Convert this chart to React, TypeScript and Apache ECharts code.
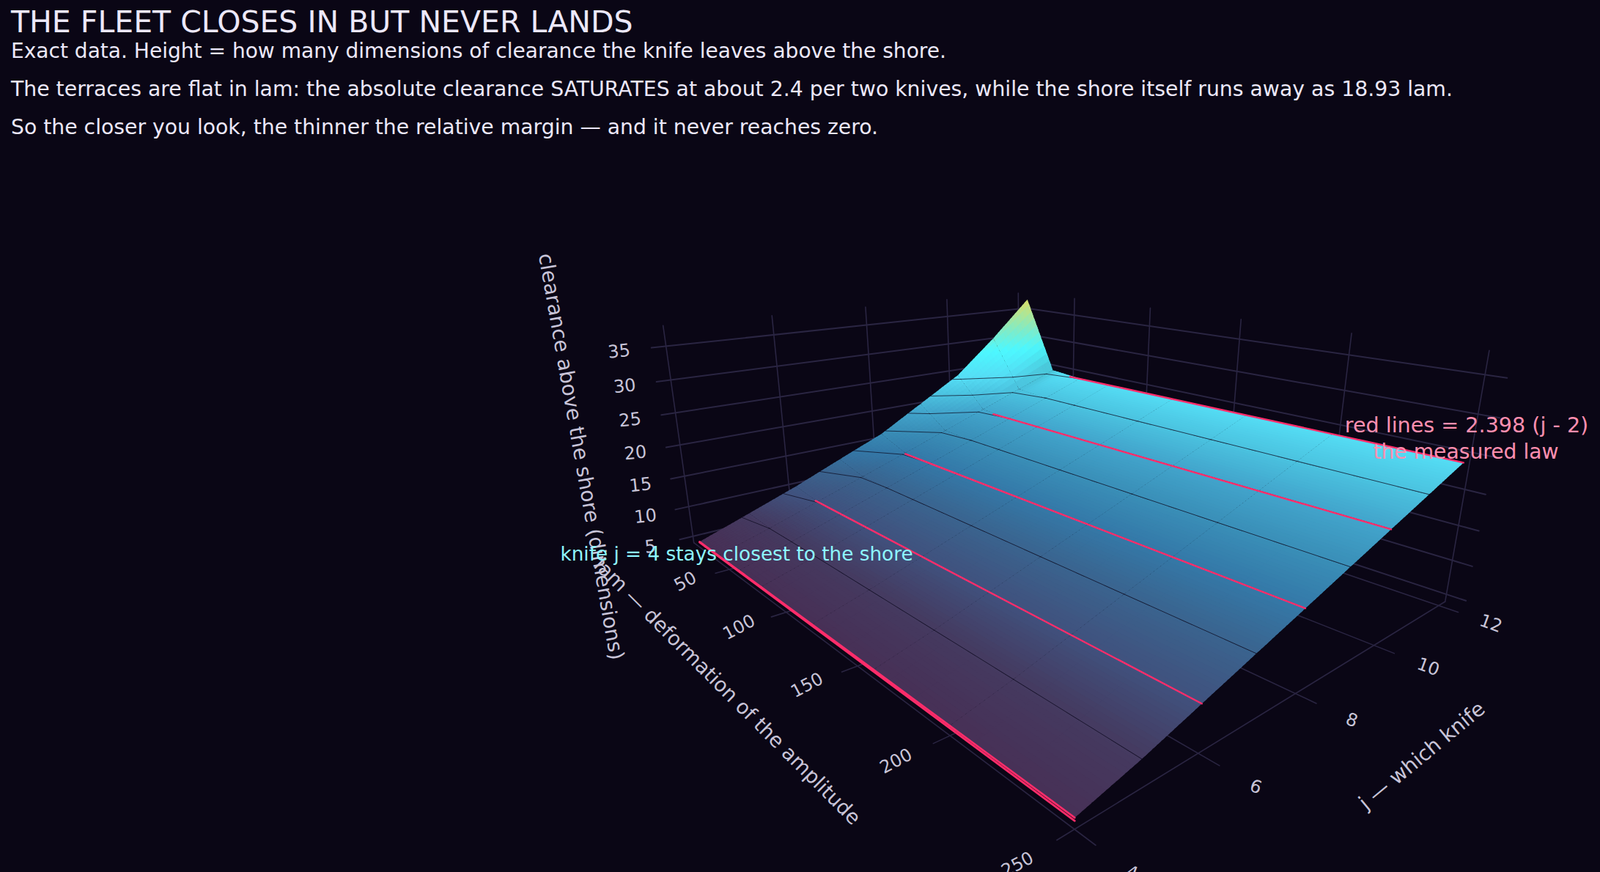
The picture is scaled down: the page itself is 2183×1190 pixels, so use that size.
import React, { useEffect, useRef } from "react";
import * as echarts from "echarts";

const TITLE = "THE FLEET CLOSES IN BUT NEVER LANDS";
const SUBTITLES = [
  "Exact data. Height = how many dimensions of clearance the knife leaves above the shore.",
  "The terraces are flat in lam: the absolute clearance SATURATES at about 2.4 per two knives, while the shore itself runs away as 18.93 lam.",
  "So the closer you look, the thinner the relative margin \u2014 and it never reaches zero.",
];

// data
const LAM = [20, 40, 60, 80, 120, 160, 200, 250];
const J = [4, 5, 6, 7, 8, 9, 10, 11, 12];
const Z_LAM20 = [4.9, 7.6, 10.35, 13.4, 16.4, 20.5, 24.6, 30.5, 37.0];
const Z_LAM40 = [4.92, 7.22, 9.66, 12.1, 14.56, 17.05, 19.52, 22.05, 24.5];
const Z_LAM60 = [4.95, 7.2, 9.6, 12.0, 14.4, 16.79, 19.19, 21.59, 24.02];
const Z_LAM80 = [4.97, 7.195, 9.595, 11.995, 14.39, 16.785, 19.185, 21.585, 24.01];
const Z_LAM120 = [5.0, 7.194, 9.592, 11.99, 14.388, 16.786, 19.184, 21.582, 23.98];
const Z_LAM160 = [5.05, 7.194, 9.592, 11.99, 14.388, 16.786, 19.184, 21.582, 23.98];
const Z_LAM200 = [5.09, 7.194, 9.592, 11.99, 14.388, 16.786, 19.184, 21.582, 23.98];
const Z_LAM250 = [5.13, 7.194, 9.592, 11.99, 14.388, 16.786, 19.184, 21.582, 23.98];
const Z_ROWS = [Z_LAM20, Z_LAM40, Z_LAM60, Z_LAM80, Z_LAM120, Z_LAM160, Z_LAM200, Z_LAM250];
const LAW_J = [4, 6, 8, 10, 12];
const LAW_Z = [4.796, 9.592, 14.388, 19.184, 23.98];
const LAW_START_LAM = [20, 38, 40, 48, 53];
const CONTOUR_LEVELS = [7.2, 9.6, 12, 14.4, 16.8, 19.2, 21.6, 24];

const LAM_TICKS = [50, 100, 150, 200, 250];
const J_TICKS = [4, 6, 8, 10, 12];
const Z_TICKS = [5, 10, 15, 20, 25, 30, 35];
const LAM_RANGE = [12.7, 250];
const J_RANGE = [4, 12.22];
const Z_RANGE = [3.9, 38];

const COLOR_Z = [5, 7.2, 9.6, 12, 14.4, 16.8, 19.2, 21.6, 24, 28, 31, 36];
const COLOR_HEX = ["#473056", "#453a60", "#40527e", "#3a648f", "#3479a8", "#3a8fb8", "#42a5cc", "#4bc3e0", "#55def5", "#4df8ff", "#7ceccc", "#d2e070"];

const BG = "#0a0615";
const GRID = "#2a2542";
const TICK = "#c8c4d8";
const RED = "#ff2d6b";
const FONT = "DejaVu Sans";

// camera: vanishing points of the three box directions
const CAM = {
  o: [946.7, 740.7], vx: [312.3, 263], vy: [2879, 263.7], vz: [1410.4, 4013],
  a: -0.4501, b: 0.3065, c: -0.08306,
};
const norm = (v: number, r: number[]) => (v - r[0]) / (r[1] - r[0]);
function depth(lam: number, j: number, z: number) {
  return 1 + CAM.a * norm(lam, LAM_RANGE) + CAM.b * norm(j, J_RANGE) + CAM.c * norm(z, Z_RANGE);
}
function project(lam: number, j: number, z: number): number[] {
  const ax = CAM.a * norm(lam, LAM_RANGE), by = CAM.b * norm(j, J_RANGE), cz = CAM.c * norm(z, Z_RANGE);
  const w = 1 + ax + by + cz;
  return [0, 1].map((d) => (CAM.o[d] + ax * CAM.vx[d] + by * CAM.vy[d] + cz * CAM.vz[d]) / w);
}

function hexRgb(h: string) {
  return [1, 3, 5].map((i) => parseInt(h.slice(i, i + 2), 16));
}
// soft lighting dip along the fold at the foot of the spike
function shade(lam: number, j: number) {
  const a = Math.exp(-Math.pow((lam - 40) / 5, 2));
  const b = Math.max(0, Math.min(1, (j - 10.6) / 1.2));
  return 1 - 0.12 * a * b;
}
function zColor(z: number, s: number) {
  let k = 0;
  while (k < COLOR_Z.length - 2 && z > COLOR_Z[k + 1]) k++;
  const t = Math.max(0, Math.min(1, (z - COLOR_Z[k]) / (COLOR_Z[k + 1] - COLOR_Z[k])));
  const p = hexRgb(COLOR_HEX[k]), q = hexRgb(COLOR_HEX[k + 1]);
  return `rgb(${p.map((v, i) => Math.round((v + (q[i] - v) * t) * s)).join(",")})`;
}

const SUB_LAM = 3, SUB_J = 14, OVERLAP = 0.35;
function surfacePatches() {
  const rows: number[][] = [];
  const nl = LAM.length - 1, nj = J.length - 1;
  const at = (c: number, r: number, u: number, v: number) => {
    const l = LAM[c] + (LAM[c + 1] - LAM[c]) * u, j = J[r] + (J[r + 1] - J[r]) * v;
    const z = (1 - u) * (1 - v) * Z_ROWS[c][r] + u * (1 - v) * Z_ROWS[c + 1][r] + (1 - u) * v * Z_ROWS[c][r + 1] + u * v * Z_ROWS[c + 1][r + 1];
    return [l, j, z];
  };
  for (let c = 0; c < nl; c++) for (let r = 0; r < nj; r++) {
    const su = c < 2 ? 10 : SUB_LAM;
    for (let a = 0; a < su; a++) for (let b = 0; b < SUB_J; b++) {
      // patches overlap a little towards their neighbours so no hairline seams show
      const u0 = a === 0 && c === 0 ? 0 : Math.max(0, (a - OVERLAP) / su);
      const u1 = Math.min(1, (a + 1 + OVERLAP) / su);
      const v0 = b === 0 && r === 0 ? 0 : Math.max(0, (b - OVERLAP) / SUB_J);
      const v1 = Math.min(1, (b + 1 + OVERLAP) / SUB_J);
      const mid = at(c, r, (a + 0.5) / su, (b + 0.5) / SUB_J);
      rows.push([...at(c, r, u0, v0), ...at(c, r, u1, v0), ...at(c, r, u1, v1), ...at(c, r, u0, v1), ...mid]);
    }
  }
  const d = (p: number[]) => depth(p[12], p[13], p[14]);
  return rows.sort((p, q) => d(q) - d(p));
}

function contourSegments() {
  const segs: number[][] = [];
  for (const L of CONTOUR_LEVELS) for (let c = 0; c < LAM.length - 1; c++) for (let r = 0; r < J.length - 1; r++) {
    const corners = [[c, r], [c + 1, r], [c + 1, r + 1], [c, r + 1]];
    const pts: number[][] = [];
    corners.forEach((p, i) => {
      const q = corners[(i + 1) % 4];
      const z0 = Z_ROWS[p[0]][p[1]], z1 = Z_ROWS[q[0]][q[1]];
      if ((z0 < L) !== (z1 < L)) {
        const t = (L - z0) / (z1 - z0);
        pts.push([LAM[p[0]] + (LAM[q[0]] - LAM[p[0]]) * t, J[p[1]] + (J[q[1]] - J[p[1]]) * t]);
      }
    });
    for (let i = 0; i + 1 < pts.length; i += 2) segs.push([pts[i][0], pts[i][1], L, pts[i + 1][0], pts[i + 1][1], L]);
  }
  return segs;
}

const STUB_LAM = 7.1, STUB_J = 0.247;
function gridLines() {
  const [l0, l1] = LAM_RANGE, [j0, j1] = J_RANGE, [z0, z1] = Z_RANGE;
  const out: number[][] = [];
  for (const z of Z_TICKS) {
    out.push([l0, j0 - STUB_J, z, l0, j1, z, 2]);
    out.push([l0, j1, z, l1 + STUB_LAM, j1, z, 2]);
  }
  for (const j of J_TICKS) {
    out.push([l0, j, z0, l0, j, z1, 1.6]);
    out.push([l0, j, z0, l1 + STUB_LAM, j, z0, 1.6]);
  }
  for (const l of LAM_TICKS) {
    out.push([l, j1, z0, l, j1, z1, 1.6]);
    out.push([l, j0 - STUB_J, z0, l, j1, z0, 1.6]);
  }
  return out;
}

function lawLines() {
  const out = LAW_J.map((j, i) => [LAW_START_LAM[i], j, LAW_Z[i], LAM[LAM.length - 1], j, LAW_Z[i], i === 0 ? 2.8 : 2.4]);
  for (let c = 0; c < LAM.length - 1; c++) out.push([LAM[c], J[0], Z_ROWS[c][0], LAM[c + 1], J[0], Z_ROWS[c + 1][0], 2.6]);
  return out;
}

function lineRender(colorFn: (api: any) => string, widthFn: (api: any) => number) {
  return (_: any, api: any) => {
    const a = project(api.value(0), api.value(1), api.value(2));
    const b = project(api.value(3), api.value(4), api.value(5));
    return {
      type: "line", silent: true,
      shape: { x1: a[0], y1: a[1], x2: b[0], y2: b[1] },
      style: { stroke: colorFn(api), lineWidth: widthFn(api), fill: null, lineCap: "round" },
    };
  };
}

function label(text: string, p: number[], size: number, deg: number, fill: string) {
  return {
    type: "text", x: p[0], y: p[1], rotation: (deg * Math.PI) / 180, z: 50, silent: true,
    style: { text, fontSize: size, fontFamily: FONT, fill, textAlign: "center", textVerticalAlign: "middle" },
  };
}
function headText(text: string, y: number, size: number, fill: string) {
  return {
    type: "text", x: 15, y, z: 60, silent: true,
    style: { text, fontSize: size, fontFamily: FONT, fill, textAlign: "left", textVerticalAlign: "middle" },
  };
}

function buildOption() {
  const graphics: any[] = [
    headText(TITLE, 30, 41, "#ece8fa"),
    headText(SUBTITLES[0], 69, 28.05, "#ece8fa"),
    headText(SUBTITLES[1], 121, 28.3, "#ece8fa"),
    headText(SUBTITLES[2], 173, 28.27, "#ece8fa"),
    ...Z_TICKS.map((z) => label(String(z), project(LAM_RANGE[0], J_RANGE[0] - 0.78, z), 24, 6, TICK)),
    ...LAM_TICKS.map((l) => label(String(l), project(l, J_RANGE[0] - 0.77, Z_RANGE[0]), 24, 28, TICK)),
    ...J_TICKS.map((j) => label(String(j), project(LAM_RANGE[1] + 18.5, j, Z_RANGE[0]), 24, -20, TICK)),
    label("clearance above the shore (dimensions)", [793, 623], 28, -80, TICK),
    label("lam \u2014 deformation of the amplitude", [993, 943], 27.5, -45, TICK),
    label("j \u2014 which knife", [1940, 1031], 28, 39.6, TICK),
    label("knife j = 4 stays closest to the shore", [1005, 756], 26.3, 0, "#8ef6ff"),
    label("red lines = 2.398 (j - 2)", [2001, 580], 28.6, 0, "#ff8fb0"),
    label("the measured law", [2000, 616], 28.2, 0, "#ff8fb0"),
  ];
  return {
    animation: false,
    backgroundColor: BG,
    graphic: { elements: graphics },
    series: [
      {
        type: "custom", coordinateSystem: "none", silent: true, z: 1, clip: false,
        data: gridLines(),
        renderItem: lineRender(() => GRID, (api) => api.value(6)),
      },
      {
        type: "custom", coordinateSystem: "none", silent: true, z: 2, clip: false,
        data: surfacePatches(),
        renderItem: (_: any, api: any) => {
          const pts = [0, 3, 6, 9].map((o) => project(api.value(o), api.value(o + 1), api.value(o + 2)));
          const fill = zColor(api.value(14), shade(api.value(12), api.value(13)));
          return { type: "polygon", silent: true, shape: { points: pts }, style: { fill } };
        },
      },
      {
        type: "custom", coordinateSystem: "none", silent: true, z: 3, clip: false,
        data: contourSegments(),
        renderItem: lineRender(() => "rgba(12,10,30,0.72)", () => 1),
      },
      {
        type: "custom", coordinateSystem: "none", silent: true, z: 4, clip: false,
        data: lawLines(),
        renderItem: lineRender(() => RED, (api) => api.value(6)),
      },
    ],
  };
}

export default function App() {
  const ref = useRef<HTMLDivElement>(null);
  useEffect(() => {
    document.body.style.margin = "0";
    document.body.style.overflow = "hidden";
    document.body.style.background = BG;
    const chart = echarts.init(ref.current!, undefined, { renderer: "svg" });
    chart.setOption(buildOption() as any);
    return () => chart.dispose();
  }, []);
  return <div ref={ref} style={{ width: 2183, height: 1190 }} />;
}
